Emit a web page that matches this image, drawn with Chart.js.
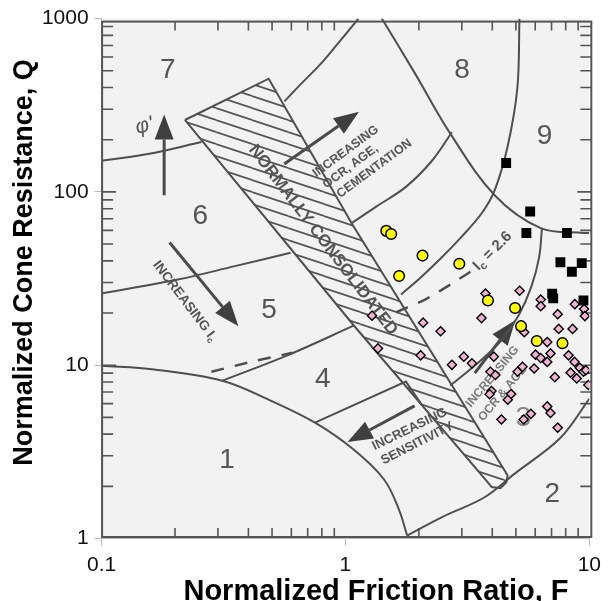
<!DOCTYPE html>
<html><head><meta charset="utf-8">
<script src="https://cdn.jsdelivr.net/npm/chart.js@4.4.1/dist/chart.umd.min.js"></script>
<style>html,body{margin:0;padding:0;background:#fff;overflow:hidden}</style>
</head><body>
<canvas id="chart" width="608" height="601" style="display:block;width:608px;height:601px"></canvas>
<script>
// ---------- axes ----------
const xTickValues = [0.1, 1, 10];
const yTickValues = [1, 10, 100, 1000];
const xTitle = 'Normalized Friction Ratio, F';
const yTitle = 'Normalized Cone Resistance, Q';

// ---------- measured points [F, Q] ----------
const yellowCircles = [[1.47,59.6],[1.54,57.1],[2.07,42.9],[1.66,32.7],[2.93,38.5],[3.84,23.6],[4.96,21.4],[5.25,16.8],[6.09,13.8],[7.76,13.4]];
const blackSquares = [[4.56,146.7],[5.72,77.0],[5.52,57.9],[8.09,57.9],[7.61,39.3],[8.48,34.6],[9.31,38.8],[7.04,25.9],[7.11,24.3],[9.46,23.6]];
const pinkDiamonds = [[1.285,19.3],[1.359,12.5],[2.082,17.6],[2.455,15.7],[2.034,11.4],[2.733,10.05],[3.058,11.2],[3.301,10.25],[3.613,18.7],[3.75,25.9],
  [5.18,26.9],[4.06,11.2],[3.93,9.17],[4.12,8.78],[5.08,9.17],[5.32,9.79],[5.94,9.57],[6.02,11.5],[6.32,11.0],[6.72,10.45],
  [6.93,11.7],[6.32,23.9],[6.32,21.9],[7.42,19.7],[8.72,22.5],[9.52,21.1],[9.59,19.2],[5.41,15.5],[7.49,16.2],[8.54,16.2],
  [7.22,8.53],[8.22,11.4],[8.70,10.45],[8.38,9.05],[8.88,8.39],[9.14,9.66],[9.46,9.17],[9.68,9.35],[9.91,7.69],[3.97,7.09],
  [3.90,6.80],[4.78,6.82],[4.63,6.32],[4.36,4.86],[5.38,4.86],[5.76,5.24],[6.72,5.78],[6.93,5.30],[7.42,4.36],[6.72,13.6]];

// ---------- background SBT chart [F, Q] ----------
const zone1Boundary = [[0.1,9.93],[0.164,9.44],[0.315,8.11],[0.486,6.31],[0.75,4.66],[1.077,3.27],[1.44,2.19],[1.66,1.46],[1.79,1.04]];
const zone2Boundary = [[1.79,1.04],[2.49,1.33],[3.72,1.73],[4.93,2.36],[7.62,3.81],[10,6.4]];
const zone45Left = [[0.31,8.1],[0.578,11.4],[1.08,16.9]];
const ic26LeftDash = [[0.282,9.17],[0.41,10.45],[0.606,11.8]];
const zone67 = [[0.1,151],[0.157,166],[0.257,194]];
const zone56Left = [[0.1,25.9],[0.2075,31.3],[0.352,37.3],[0.596,44.5]];
const zone78 = [[1.13,1000],[0.921,705],[0.786,542],[0.653,416],[0.562,333]];
const zone89 = [[1.41,1000],[1.941,475],[2.647,225],[4.09,95.7],[6.32,61.8],[9.46,57.9],[10,57.9]];
const ocrBoxBottom = [[1.06,66],[1.337,82.2],[1.769,106.9],[2.268,151.8],[2.733,221]];
const zone45Right = [[5.17,1000],[5.07,400],[4.62,182],[4.09,102],[3.62,75.3],[3.01,55.6],[2.45,41.1],[2.03,32.0],[1.69,25.6]];
const zone34Right = [[6.39,61],[6.22,41.6],[5.77,28.1],[5.16,19.7],[4.41,14.2],[3.73,11.2],[3.09,8.93],[2.69,7.63]];
const ic26RightDash = [[1.61,20.2],[2.13,24.0],[2.82,30.4],[3.39,36.0]];
const zone34Left = [[0.75,4.66],[1.769,8.04],[2.05,5.94]];
const ncBand = [[0.2196,260],[0.4845,450],[1.06,66],[4.62,2.32],[4.57,2.11],[4.32,1.95],[3.98,1.98],[3.73,2.21],[1.08,17.0],[0.2196,260]];

const arrows = [
  {from:[0.1805,95.7], to:[0.1805,280]},
  {from:[0.561,145], to:[1.136,290]},
  {from:[0.19,51], to:[0.364,16.8]},
  {from:[1.92,5.83], to:[1.02,3.61]},
  {from:[3.39,9.0], to:[4.97,18.2]}
];

const sbtLabels = [
  {parts:['7'], F:0.1868, Q:505, rot:0, size:28},
  {parts:['8'], F:3.008, Q:505, rot:0, size:28},
  {parts:['9'], F:6.55, Q:209.5, rot:0, size:28},
  {parts:['6'], F:0.254, Q:72.7, rot:0, size:28},
  {parts:['5'], F:0.486, Q:20.7, rot:0, size:28},
  {parts:['4'], F:0.807, Q:8.33, rot:0, size:28},
  {parts:['1'], F:0.327, Q:2.82, rot:0, size:28},
  {parts:['2'], F:7.05, Q:1.79, rot:0, size:28},
  {parts:['3'], F:5.36, Q:4.91, rot:0, size:28, color:'#8a8a8a'},
  {parts:["\u03c6'"], F:0.1498, Q:240, rot:-15, size:21, italic:true},
  {parts:['NORMALLY CONSOLIDATED'], F:0.809, Q:52.7, rot:52.7, size:17, bold:true},
  {parts:['INCREASING'], F:1.002, Q:171.2, rot:-36.5, size:12.5, bold:true},
  {parts:['OCR, AGE,'], F:1.049, Q:140, rot:-36.5, size:12.5, bold:true},
  {parts:['CEMENTATION'], F:1.313, Q:136.2, rot:-36.5, size:12.5, bold:true},
  {parts:['INCREASING I',{sub:'c'}], F:0.2196, Q:23.4, rot:52.7, size:13.5, bold:true},
  {parts:['I',{sub:'c'},' = 2.6'], F:4.01, Q:45.6, rot:-45, size:15, bold:true},
  {parts:['INCREASING'], F:1.834, Q:4.27, rot:-26, size:13, bold:true},
  {parts:['SENSITIVITY'], F:1.972, Q:3.54, rot:-27, size:13, bold:true},
  {parts:['INCREASING'], F:4.01, Q:8.59, rot:-50, size:12, bold:true, color:'#7a7a7a'},
  {parts:['OCR & AGE'], F:4.41, Q:6.87, rot:-50, size:12, bold:true, color:'#7a7a7a'}
];

const frameXMinor = [0.2,0.3,0.4,0.5,0.6,0.7,0.8,0.9,2,3,4,5,6,7,8,9];
const frameYMinor = [2,3,4,5,6,7,8,9,10,20,30,40,50,60,70,80,90,100,200,300,400,500,600,700,800,900];

const FONT = '"Liberation Sans", Arial, Helvetica, sans-serif';
const LINE = '#4f4f4f';

function makeHatch() {
  const W = 36, H = 12;
  const c = document.createElement('canvas'); c.width = W; c.height = H;
  const g = c.getContext('2d');
  g.strokeStyle = '#555'; g.lineWidth = 1.7;
  for (const k of [-1, 0, 1]) { g.beginPath(); g.moveTo(0, k * H); g.lineTo(W, H + k * H); g.stroke(); }
  return g.createPattern(c, 'repeat');
}

const P = a => a.map(([x, y]) => ({x, y}));
const lineDs = (data, extra) => Object.assign({
  data: P(data), showLine: true, borderColor: LINE, borderWidth: 2, pointRadius: 0, pointHoverRadius: 0,
  tension: 0.35, fill: false, order: 5
}, extra || {});

function drawLabel(ctx, x, y, lab) {
  ctx.save();
  ctx.translate(x, y);
  ctx.rotate(lab.rot * Math.PI / 180);
  const fs = lab.size;
  const main = `${lab.italic ? 'italic ' : ''}${lab.bold ? 'bold ' : ''}${fs}px ${FONT}`;
  const sub = `${lab.bold ? 'bold ' : ''}${Math.round(fs * 0.7)}px ${FONT}`;
  let total = 0;
  for (const p of lab.parts) { ctx.font = typeof p === 'string' ? main : sub; total += ctx.measureText(typeof p === 'string' ? p : p.sub).width; }
  let cx = -total / 2;
  ctx.textBaseline = 'middle'; ctx.textAlign = 'left';
  ctx.fillStyle = lab.color || '#555';
  for (const p of lab.parts) {
    const t = typeof p === 'string' ? p : p.sub;
    ctx.font = typeof p === 'string' ? main : sub;
    ctx.fillText(t, cx, typeof p === 'string' ? 0 : fs * 0.3);
    cx += ctx.measureText(t).width;
  }
  ctx.restore();
}

function drawArrow(ctx, x0, y0, x1, y1) {
  const headLen = 25, headW = 19;
  const ang = Math.atan2(y1 - y0, x1 - x0);
  const bx = x1 - headLen * Math.cos(ang), by = y1 - headLen * Math.sin(ang);
  ctx.strokeStyle = '#4a4a4a'; ctx.lineWidth = 3;
  ctx.beginPath(); ctx.moveTo(x0, y0); ctx.lineTo(bx, by); ctx.stroke();
  ctx.fillStyle = '#3f3f3f';
  ctx.beginPath(); ctx.moveTo(x1, y1);
  ctx.lineTo(bx + headW / 2 * Math.sin(ang), by - headW / 2 * Math.cos(ang));
  ctx.lineTo(bx - headW / 2 * Math.sin(ang), by + headW / 2 * Math.cos(ang));
  ctx.closePath(); ctx.fill();
}

const sbtPlugin = {
  id: 'sbt',
  beforeDraw(chart) {
    const {ctx, chartArea: a} = chart;
    ctx.save(); ctx.fillStyle = '#f2f2f2';
    ctx.fillRect(a.left, a.top, a.right - a.left, a.bottom - a.top);
    ctx.restore();
  },
  beforeDatasetsDraw(chart) {
    const {ctx, chartArea: a, scales: {x, y}} = chart;
    ctx.save();
    // scanned frame with inward ticks
    const L = a.left + 0.5, T = a.top + 3, R = a.right + 2, B = a.bottom - 1.5;
    ctx.strokeStyle = '#555'; ctx.lineWidth = 2;
    ctx.strokeRect(L, T, R - L, B - T);
    ctx.lineWidth = 1.6;
    ctx.beginPath();
    for (const v of frameXMinor) {
      const px = x.getPixelForValue(v);
      ctx.moveTo(px, T); ctx.lineTo(px, T + 9);
      ctx.moveTo(px, B); ctx.lineTo(px, B - 9);
    }
    for (const v of frameYMinor) {
      const py = y.getPixelForValue(v);
      if (py < T + 2 || py > B - 2) continue;
      const len = (v === 10 || v === 100) ? 14 : 11;
      ctx.moveTo(L, py); ctx.lineTo(L + len, py);
      ctx.moveTo(R, py); ctx.lineTo(R - len, py);
    }
    ctx.stroke();
    ctx.beginPath(); ctx.rect(a.left, a.top, a.right - a.left + 3, a.bottom - a.top); ctx.clip();
    for (const lab of sbtLabels) drawLabel(ctx, x.getPixelForValue(lab.F), y.getPixelForValue(lab.Q), lab);
    for (const ar of arrows) drawArrow(ctx, x.getPixelForValue(ar.from[0]), y.getPixelForValue(ar.from[1]), x.getPixelForValue(ar.to[0]), y.getPixelForValue(ar.to[1]));
    ctx.restore();
  },
  afterDraw(chart) {
    const {ctx} = chart;
    ctx.save();
    ctx.fillStyle = '#000';
    ctx.font = `bold 29px ${FONT}`;
    ctx.textAlign = 'center'; ctx.textBaseline = 'alphabetic';
    ctx.fillText(xTitle, 376, 600);
    ctx.translate(25, 262.5); ctx.rotate(-Math.PI / 2);
    ctx.font = `bold 27px ${FONT}`;
    ctx.textBaseline = 'middle';
    ctx.fillText(yTitle, 0, 0);
    ctx.restore();
  }
};

const hatch = makeHatch();

new Chart(document.getElementById('chart'), {
  type: 'scatter',
  data: {
    datasets: [
      {label: 'Yellow', data: P(yellowCircles), pointStyle: 'circle', pointRadius: 5.3, backgroundColor: '#ffff00', borderColor: '#000', borderWidth: 1.5, order: 0},
      {label: 'Squares', data: P(blackSquares), pointStyle: 'rect', pointRadius: 7, backgroundColor: '#000', borderColor: '#000', borderWidth: 0, order: 1},
      {label: 'Diamonds', data: P(pinkDiamonds), pointStyle: 'rectRot', pointRadius: 4.6, backgroundColor: '#f0b4d2', borderColor: '#000', borderWidth: 1.4, order: 2},
      lineDs(ncBand, {label: 'NC band', tension: 0, fill: 'shape', backgroundColor: hatch, order: 7}),
      lineDs(zone1Boundary, {label: 'z1'}),
      lineDs(zone2Boundary, {label: 'z2'}),
      lineDs(zone45Left, {label: 'z45L'}),
      lineDs(ic26LeftDash, {label: 'ic26L', borderDash: [13, 11], borderWidth: 2.5, tension: 0.2}),
      lineDs(zone67, {label: 'z67'}),
      lineDs(zone56Left, {label: 'z56L'}),
      lineDs(zone78, {label: 'z78'}),
      lineDs(zone89, {label: 'z89'}),
      lineDs(ocrBoxBottom, {label: 'box'}),
      lineDs(zone45Right, {label: 'z45R'}),
      lineDs(zone34Right, {label: 'z34R'}),
      lineDs(ic26RightDash, {label: 'ic26R', borderDash: [13, 11], borderWidth: 2.5, tension: 0.2}),
      lineDs(zone34Left, {label: 'z34L', tension: 0})
    ]
  },
  options: {
    responsive: false, animation: false,
    layout: {padding: {top: 13.4, right: 12, left: 0, bottom: 0}},
    plugins: {legend: {display: false}, tooltip: {enabled: false}},
    scales: {
      x: {
        type: 'logarithmic', min: 0.1, max: 10,
        afterBuildTicks: s => { s.ticks = xTickValues.map(v => ({value: v})); },
        afterFit: s => { s.height = 62.5; },
        ticks: {autoSkip: false, maxRotation: 0, padding: 7, color: '#111', font: {family: FONT, size: 21}, callback: v => String(v)},
        grid: {drawOnChartArea: false, drawTicks: true, tickLength: 7, color: '#b8b8b8'},
        border: {display: true, color: '#b8b8b8'},
        title: {display: false}
      },
      y: {
        type: 'logarithmic', min: 1, max: 1000,
        afterBuildTicks: s => { s.ticks = yTickValues.map(v => ({value: v})); },
        afterFit: s => { s.width = 101.6; },
        ticks: {autoSkip: false, padding: 6, color: '#111', font: {family: FONT, size: 21}, callback: v => String(v)},
        grid: {drawOnChartArea: false, drawTicks: true, tickLength: 7, color: '#b8b8b8'},
        border: {display: true, color: '#b8b8b8'},
        title: {display: false}
      }
    }
  },
  plugins: [sbtPlugin]
});
</script>
</body></html>
